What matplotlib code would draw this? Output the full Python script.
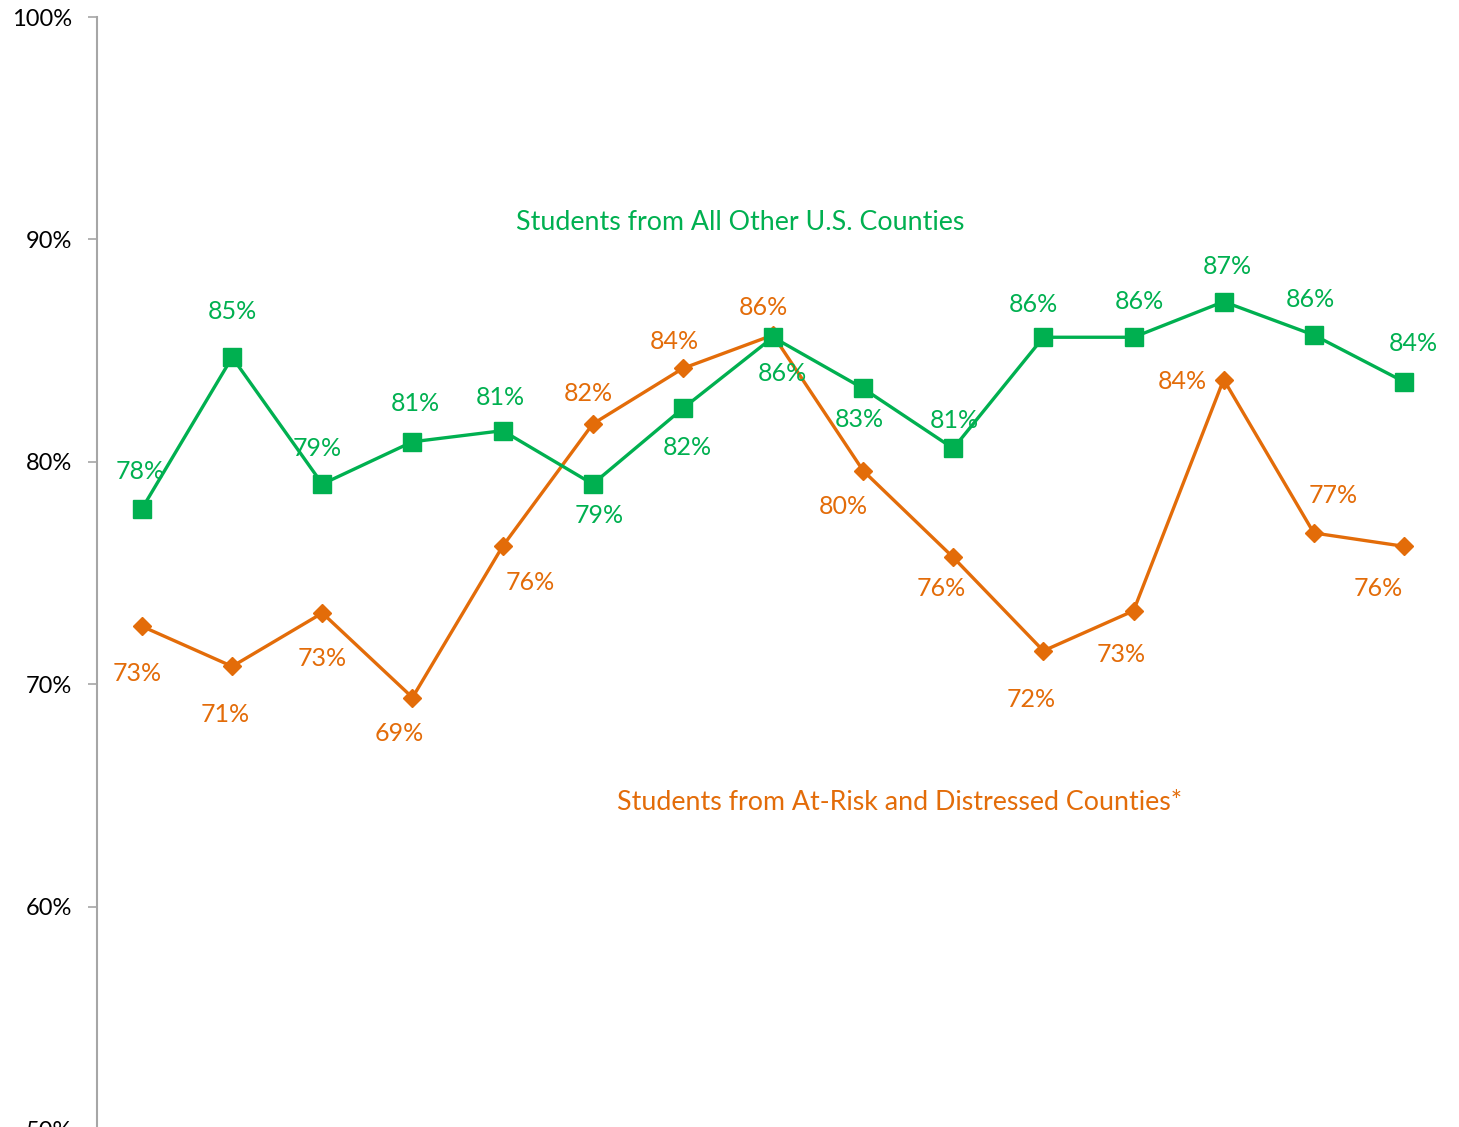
import numpy as np
import matplotlib.pyplot as plt
from matplotlib.ticker import FuncFormatter

# values in percent, 15 consecutive periods (no x labels shown in the chart)
periods = list(range(15))
other_counties = [77.9, 84.7, 79.0, 80.9, 81.4, 79.0, 82.4, 85.6, 83.3, 80.6,
                  85.6, 85.6, 87.2, 85.7, 83.6]
at_risk_counties = [72.6, 70.8, 73.2, 69.4, 76.2, 81.7, 84.2, 85.7, 79.6, 75.7,
                    71.5, 73.3, 83.7, 76.8, 76.2]

other_name = 'Students from All Other U.S. Counties'
at_risk_name = 'Students from At-Risk and Distressed Counties*'
y_ticks = [50, 60, 70, 80, 90, 100]

GREEN = '#00B050'
ORANGE = '#E36C09'
FONT = 'Lato'

# label offsets in pixels (dx, dy) relative to each point
other_offsets = [(-2, 37), (0, 46), (-5, 36), (3, 38), (-2, 33), (6, -31), (4, -39),
                 (9, -36), (-4, -31), (1, 28), (-10, 33), (6, 36), (4, 35), (-3, 36), (9, 38)]
at_risk_offsets = [(-5, -47), (-7, -48), (0, -45), (-13, -36), (28, -36), (-4, 30), (-9, 27),
                   (-10, 28), (-20, -36), (-12, -31), (-12, -49), (-12, -44), (-41, -2),
                   (19, 37), (-26, -42)]

plt.rcParams['font.family'] = [FONT, 'DejaVu Sans']

fig = plt.figure(figsize=(14.59, 11.27), dpi=100)
ax = fig.add_axes([97 / 1459, -2 / 1127, 1352 / 1459, 1112 / 1127])

ax.plot(periods, at_risk_counties, color=ORANGE, lw=2.4, marker='D', ms=9.5,
        zorder=3, clip_on=False)
ax.plot(periods, other_counties, color=GREEN, lw=2.4, marker='s', ms=13,
        zorder=4, clip_on=False)

for x, v, (dx, dy) in zip(periods, other_counties, other_offsets):
    ax.annotate(f'{round(v)}%', (x, v), xytext=(dx, dy), textcoords='offset pixels',
                ha='center', va='center', color=GREEN, fontsize=18, zorder=5)
for x, v, (dx, dy) in zip(periods, at_risk_counties, at_risk_offsets):
    ax.annotate(f'{round(v)}%', (x, v), xytext=(dx, dy), textcoords='offset pixels',
                ha='center', va='center', color=ORANGE, fontsize=18, zorder=5)

ax.text(740 / 1459, (1127 - 222) / 1127, other_name, transform=fig.transFigure,
        ha='center', va='center', color=GREEN, fontsize=19.3)
ax.text(900 / 1459, (1127 - 803) / 1127, at_risk_name, transform=fig.transFigure,
        ha='center', va='center', color=ORANGE, fontsize=19.3)

ax.set_xlim(-0.5, 14.5)
ax.set_ylim(50, 100)
ax.set_yticks(y_ticks)
ax.yaxis.set_major_formatter(FuncFormatter(lambda v, _: f'{v:.0f}%'))
ax.tick_params(axis='y', length=6.5, width=1.2, color='#A6A6A6', labelsize=17,
               pad=11.5)
ax.set_xticks([])

for side in ['top', 'right', 'bottom']:
    ax.spines[side].set_visible(False)
ax.spines['left'].set_color('#A6A6A6')
ax.spines['left'].set_linewidth(1.5)

fig.savefig('out.png', dpi=100)
